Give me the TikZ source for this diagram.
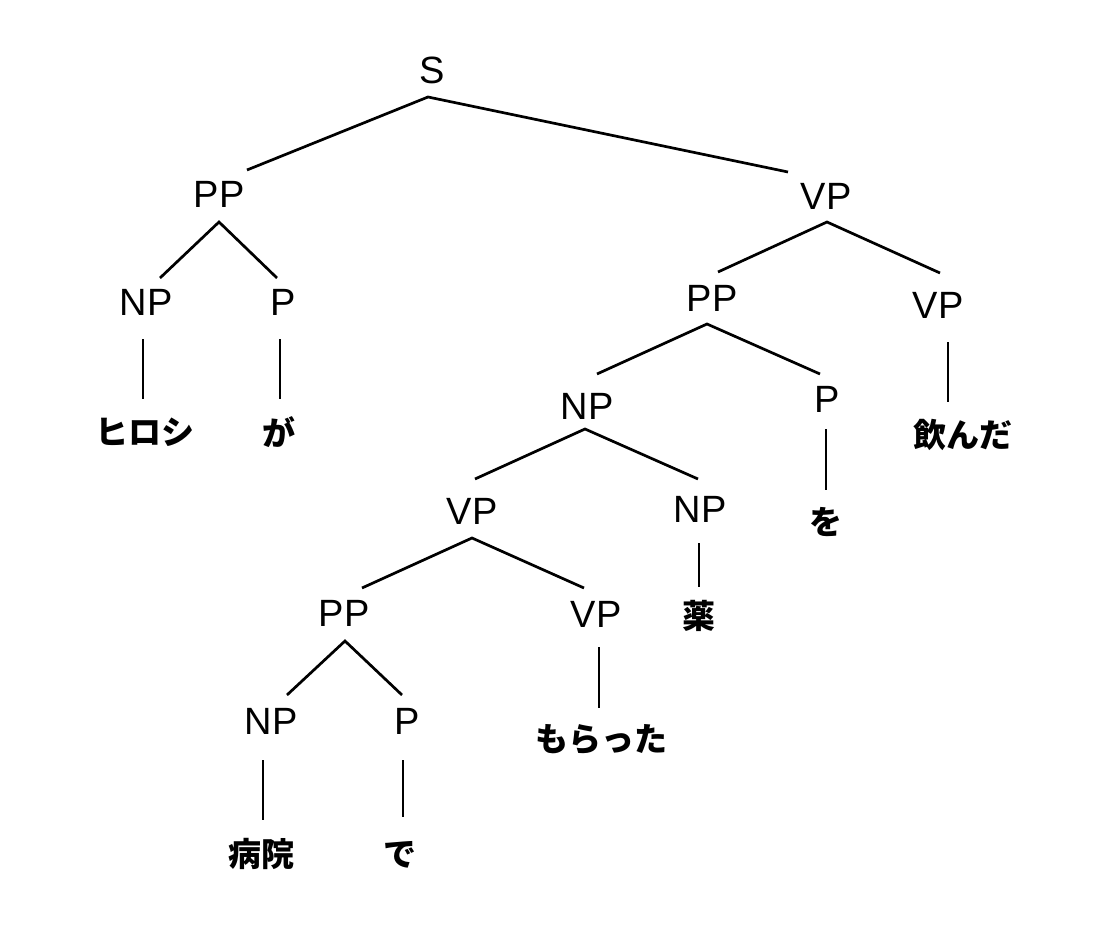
\documentclass[tikz,border=0pt]{standalone}
\usepackage{fontspec}
\setmainfont{Liberation Sans}
\newfontfamily\jpfont{Noto Sans CJK JP}
\tikzset{
  cat/.style={inner sep=0pt, font=\fontsize{38}{40}\selectfont},
  word/.style={inner sep=0pt, font=\jpfont\bfseries\fontsize{33}{35}\selectfont},
  edge/.style={line width=2.7pt, line join=miter}
}
\begin{document}
\begin{tikzpicture}[x=1pt,y=-1pt]
\useasboundingbox[fill=white] (0,0) rectangle (1101,928);
% categories
\node[cat] (s) at (432,70) {S};
\node[cat] (pp1) at (219,194) {PP};
\node[cat] (vp1) at (826,196) {VP};
\node[cat] (np1) at (146,302) {NP};
\node[cat] (p1) at (283,302) {P};
\node[cat] (pp2) at (712,298) {PP};
\node[cat] (vp2) at (938,305) {VP};
\node[cat] (np2) at (587,406) {NP};
\node[cat] (p2) at (827,399) {P};
\node[cat] (vp3) at (472,511) {VP};
\node[cat] (np3) at (700,509) {NP};
\node[cat] (pp3) at (344,613) {PP};
\node[cat] (vp4) at (596,614) {VP};
\node[cat] (np4) at (271,721) {NP};
\node[cat] (p4) at (407,721) {P};
% words
\node[word] (hiroshi) at (145,432) {ヒロシ};
\node[word] (ga) at (279,432) {が};
\node[word] (nonda) at (963,435) {飲んだ};
\node[word] (wo) at (826,522) {を};
\node[word] (kusuri) at (699,616) {薬};
\node[word] (moratta) at (601,740) {もらった};
\node[word] (byouin) at (261,854) {病院};
\node[word] (de) at (400,855) {で};
% branching edges
\draw[edge] ([xshift=28pt,yshift=24pt]pp1.center) -- ([xshift=-4pt,yshift=-27pt]s.center) -- ([xshift=-38pt,yshift=24pt]vp1.center);
\draw[edge] ([xshift=14pt,yshift=24pt]np1.center) -- ([yshift=-28pt]pp1.center) -- ([xshift=-6pt,yshift=24pt]p1.center);
\draw[edge] ([xshift=6pt,yshift=26pt]pp2.center) -- ([xshift=1pt,yshift=-26pt]vp1.center) -- ([xshift=2pt,yshift=32pt]vp2.center);
\draw[edge] ([xshift=10pt,yshift=32pt]np2.center) -- ([xshift=-5pt,yshift=-26pt]pp2.center) -- ([xshift=-7pt,yshift=25pt]p2.center);
\draw[edge] ([xshift=3pt,yshift=32pt]vp3.center) -- ([xshift=-2pt,yshift=-23pt]np2.center) -- ([xshift=-2pt,yshift=30pt]np3.center);
\draw[edge] ([xshift=18pt,yshift=25pt]pp3.center) -- ([yshift=-27pt]vp3.center) -- ([xshift=-12pt,yshift=26pt]vp4.center);
\draw[edge] ([xshift=16pt,yshift=26pt]np4.center) -- ([xshift=1pt,yshift=-28pt]pp3.center) -- ([xshift=-5pt,yshift=26pt]p4.center);
% unary edges
\draw[edge] ([xshift=-3pt,yshift=-37pt]np1.center) -- ([xshift=-2pt,yshift=33pt]hiroshi.center);
\draw[edge] ([xshift=-3pt,yshift=-37pt]p1.center) -- ([xshift=1pt,yshift=33pt]ga.center);
\draw[edge] ([xshift=10pt,yshift=-37pt]vp2.center) -- ([xshift=-15pt,yshift=33pt]nonda.center);
\draw[edge] ([xshift=-1pt,yshift=-30pt]p2.center) -- ([yshift=32pt]wo.center);
\draw[edge] ([xshift=-1pt,yshift=-34pt]np3.center) -- ([yshift=29pt]kusuri.center);
\draw[edge] ([xshift=3pt,yshift=-33pt]vp4.center) -- ([xshift=-2pt,yshift=32pt]moratta.center);
\draw[edge] ([xshift=-8pt,yshift=-39pt]np4.center) -- ([xshift=2pt,yshift=34pt]byouin.center);
\draw[edge] ([xshift=-4pt,yshift=-39pt]p4.center) -- ([xshift=3pt,yshift=38pt]de.center);
\end{tikzpicture}
\end{document}
